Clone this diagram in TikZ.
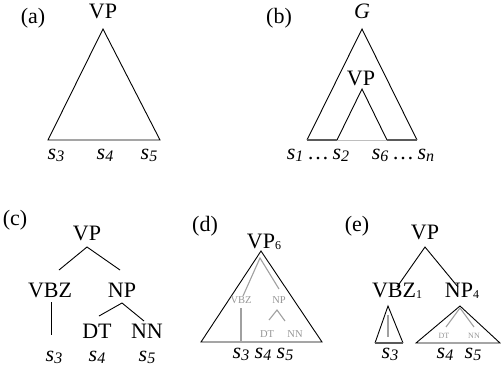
\documentclass[tikz,border=0pt]{standalone}
\usepackage{fontspec}
\setmainfont{Liberation Serif}
\newcommand{\sv}[1]{\textit{s}{\fontsize{16}{16}\selectfont\raisebox{-2.5pt}{\textit{#1}}}}
\newcommand{\nsub}[1]{{\fontsize{12}{12}\selectfont\raisebox{-1.5pt}{#1}}}
\definecolor{gline}{RGB}{160,160,160}
\definecolor{gtext}{RGB}{150,150,150}
\definecolor{dkline}{RGB}{90,90,90}
\definecolor{ltline}{RGB}{190,190,190}
\begin{document}
\begin{tikzpicture}[x=1pt,y=-1pt,
  big/.style={font=\fontsize{22}{22}\selectfont,anchor=base,inner sep=0pt},
  lab/.style={font=\fontsize{22}{22}\selectfont,anchor=base,inner sep=0pt},
  gsm/.style={font=\fontsize{10.5}{10.5}\selectfont,text=gtext,anchor=base,inner sep=0pt},
  gxs/.style={font=\fontsize{8}{8}\selectfont,text=gtext,anchor=base,inner sep=0pt},
  edge/.style={line width=0.9pt,black},
  gedge/.style={line width=1.1pt,gline}]
\useasboundingbox (0,0) rectangle (501,376);
% ---------- (a)
\node[big] (la) at (33,23) {(a)};
\node[big] (aVP) at (103,18) {VP};
\coordinate (aT) at (103,29);
\coordinate (aL) at (48,140);
\coordinate (aR) at (160,140);
\draw[edge] (aT) -- (aL) -- (aR) -- cycle;
\node[big] (a3) at (56,159) {\sv{3}};
\node[big] (a4) at (105,159) {\sv{4}};
\node[big] (a5) at (149,159) {\sv{5}};
% ---------- (b)
\node[big] (lb) at (279,23) {(b)};
\node[big] (bG) at (362,18) {\textit{G}};
\node[big] (bVP) at (361,85) {VP};
\coordinate (bT) at (362,29);
\coordinate (bL) at (307,140);
\coordinate (bR) at (417,140);
\coordinate (vT) at (362,89);
\coordinate (vL) at (337,140);
\coordinate (vR) at (387,140);
\draw[edge] (bL) -- (bT) -- (bR);
\draw[edge] (vL) -- (vT) -- (vR);
\draw[line width=1.1pt,dkline] (bL) -- (vL);
\draw[line width=1.1pt,dkline] (vR) -- (bR);
\draw[line width=0.9pt,ltline] (vL) -- (vR);
\node[big] (b12) at (318,159) {\sv{1}\,…\,\sv{2}};
\node[big] (b6n) at (403,159) {\sv{6}\,…\,\sv{n}};
% ---------- (c)
\node[lab] (lc) at (15,225) {(c)};
\node[lab] (cVP) at (87,240) {VP};
\node[lab] (cVBZ) at (50,297) {VBZ};
\node[lab] (cNP) at (122,297) {NP};
\node[lab] (cDT) at (97,338) {DT};
\node[lab] (cNN) at (147,338) {NN};
\node[lab] (c3) at (54,361) {\sv{3}};
\node[lab] (c4) at (97,361) {\sv{4}};
\node[lab] (c5) at (147,361) {\sv{5}};
\coordinate (cVPb) at (87,247);
\coordinate (cVBZt) at (59,270);
\coordinate (cNPt) at (120,270);
\coordinate (cVBZb) at (51,302);
\coordinate (cVBZe) at (51,335);
\coordinate (cNPb) at (122,303);
\coordinate (cDTt) at (99,316);
\coordinate (cNNt) at (144,321);
\draw[edge] (cVBZt) -- (cVPb) -- (cNPt);
\draw[edge] (cVBZb) -- (cVBZe);
\draw[edge] (cDTt) -- (cNPb) -- (cNNt);
% ---------- (d)
\node[lab] (ld) at (205,231) {(d)};
\node[lab] (dVP) at (264,248) {VP\nsub{6}};
\coordinate (dT) at (261,251);
\coordinate (dL) at (201,342);
\coordinate (dR) at (322,342);
\draw[edge] (dT) -- (dL) -- (dR) -- cycle;
\node[gsm] (dVBZ) at (241,303) {VBZ};
\node[gsm] (dNP) at (279,303) {NP};
\node[gsm] (dDT) at (267,337) {DT};
\node[gsm] (dNN) at (295,337) {NN};
\coordinate (dGT) at (260,258);
\coordinate (dGL) at (243,296);
\coordinate (dGR) at (279,289);
\coordinate (dVt) at (241,308);
\coordinate (dVb) at (241,341);
\coordinate (dNPb) at (277,310);
\coordinate (dDTt) at (269,320);
\coordinate (dNNt) at (285,321);
\draw[gedge] (dGL) -- (dGT) -- (dGR);
\draw[gedge] (dVt) -- (dVb);
\draw[gedge] (dDTt) -- (dNPb) -- (dNNt);
\node[lab] (d3) at (241,358) {\sv{3}};
\node[lab] (d4) at (263,358) {\sv{4}};
\node[lab] (d5) at (285,358) {\sv{5}};
% ---------- (e)
\node[lab] (le) at (357,231) {(e)};
\node[lab] (eVP) at (425,239) {VP};
\node[lab] (eVBZ) at (397,297) {VBZ\nsub{1}};
\node[lab] (eNP) at (462,297) {NP\nsub{4}};
\coordinate (eVPb) at (425,247);
\coordinate (eVBZt) at (397,287);
\coordinate (eNPt) at (458,287);
\draw[edge] (eVBZt) -- (eVPb) -- (eNPt);
% small triangle
\coordinate (sT) at (388,306);
\coordinate (sL) at (375,343);
\coordinate (sR) at (403,343);
\draw[edge] (sL) -- (sT) -- (sR);
\draw[line width=1.1pt,dkline] (sL) -- (sR);
\coordinate (sVt) at (388,315);
\coordinate (sVb) at (388,337);
\draw[gedge] (sVt) -- (sVb);
% big triangle
\coordinate (nT) at (460,306);
\coordinate (nL) at (416,343);
\coordinate (nR) at (500,343);
\draw[edge] (nT) -- (nL) -- (nR) -- cycle;
\node[gxs] (eDT) at (444,338) {DT};
\node[gxs] (eNN) at (474,338) {NN};
\coordinate (nGT) at (460,308);
\coordinate (nDTt) at (446,327);
\coordinate (nNNt) at (474,327);
\draw[gedge] (nDTt) -- (nGT) -- (nNNt);
\node[lab] (e3) at (390,358) {\sv{3}};
\node[lab] (e4) at (445,358) {\sv{4}};
\node[lab] (e5) at (473,358) {\sv{5}};
\end{tikzpicture}
\end{document}
